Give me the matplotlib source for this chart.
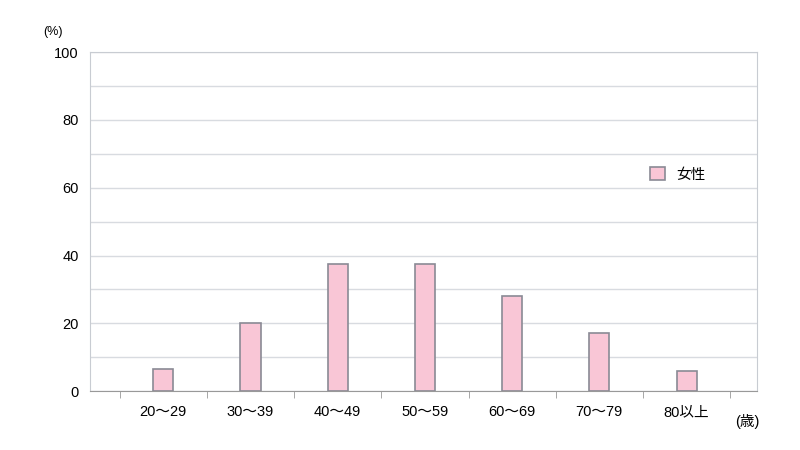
import matplotlib.pyplot as plt
import numpy as np

plt.rcParams['font.family'] = ['Liberation Sans', 'Noto Sans CJK JP']

# 年代別の値 (%)
categories = ['20～29', '30～39', '40～49', '50～59', '60～69', '70～79', '80以上']
female = [6.5, 20, 37.5, 37.5, 28, 17, 6]

fig = plt.figure(figsize=(8, 4.5), dpi=100)
ax = fig.add_axes([0.1125, 0.131, 0.834, 0.753])

x = np.arange(len(categories))
ax.bar(x, female, width=0.23, color='#f9c6d6', edgecolor='#8a8a95', linewidth=1.2,
       label='女性', zorder=3)

ax.set_xlim(-0.84, 6.81)
ax.set_ylim(0, 100)
ax.set_yticks(range(0, 101, 20))
ax.set_yticks(range(0, 101, 10), minor=True)
ax.grid(axis='y', which='both', color='#d8dbe0', linewidth=1, zorder=0)
ax.set_xticks(x)
ax.set_xticklabels(categories, fontsize=10.5)
ax.set_xticks(np.arange(-0.5, 7, 1), minor=True)
ax.tick_params(axis='x', which='major', length=0, pad=10)
ax.tick_params(axis='x', which='minor', length=5, color='#999999')
ax.tick_params(axis='y', which='both', length=0, labelsize=10.5, pad=8)
for s in ax.spines.values():
    s.set_color('#c8ccd2')
ax.spines['bottom'].set_color('#999999')

ax.text(-0.07, 1.05, '(%)', transform=ax.transAxes, ha='left', fontsize=9)
ax.annotate('(歳)', xy=(1.0, 0), xycoords='axes fraction', xytext=(-7, -22),
            textcoords='offset points', fontsize=10.5, ha='center', va='center')

ax.legend(loc='upper left', bbox_to_anchor=(0.82, 0.7), frameon=False, fontsize=10.5,
          handlelength=1, handleheight=1)

plt.savefig('out.png', dpi=100)
